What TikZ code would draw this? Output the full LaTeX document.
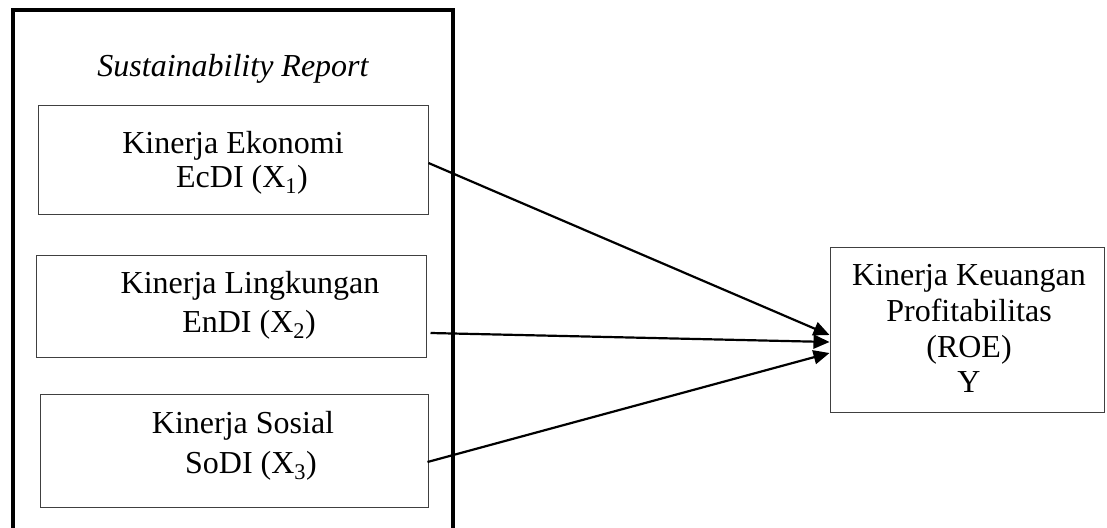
\documentclass[tikz,border=0pt]{standalone}
\usepackage{fontspec}
\setmainfont{Liberation Serif}
\usetikzlibrary{arrows.meta,calc}
\begin{document}
\begin{tikzpicture}[x=1pt,y=-1pt,
  inbox/.style={draw=black!75,line width=1pt,rectangle,inner sep=0pt},
  txt/.style={font=\fontsize{32}{36}\selectfont,inner sep=0pt,anchor=base},
  arr/.style={line width=2.2pt,-{Triangle[length=16pt,width=14pt]}}]
\useasboundingbox (0,0) rectangle (1107,527);
\clip (0,0) rectangle (1107,527);
\fill[white] (0,0) rectangle (1107,527);
% outer frame
\draw[line width=4.2pt] (13,10) rectangle (453,545);
\node[txt,font=\fontsize{32}{36}\selectfont\itshape] (sr) at (233,77) {Sustainability Report};
% boxes
\node[inbox,minimum width=390pt,minimum height=109pt] (b1) at (233,159.5) {};
\node[inbox,minimum width=390pt,minimum height=102pt] (b2) at (231,306) {};
\node[inbox,minimum width=388pt,minimum height=113pt] (b3) at (234,450.5) {};
\node[inbox,minimum width=274pt,minimum height=165pt] (y) at (967,329.5) {};
% texts
\node[txt] (t1a) at (233,153) {Kinerja Ekonomi};
\node[txt] (t1b) at (242,187) {EcDI (X\textsubscript{1})};
\node[txt] (t2a) at (250,293) {Kinerja Lingkungan};
\node[txt] (t2b) at (249,332) {EnDI (X\textsubscript{2})};
\node[txt] (t3a) at (243,433) {Kinerja Sosial};
\node[txt] (t3b) at (251,473) {SoDI (X\textsubscript{3})};
\node[txt] (ya) at (969,285) {Kinerja Keuangan};
\node[txt] (yb) at (969,321) {Profitabilitas};
\node[txt] (yc) at (969,357) {(ROE)};
\node[txt] (yd) at (969,392) {Y};
% arrows
\draw[arr] ([yshift=-3.5pt]b1.east) -- ([yshift=-5.5pt]y.west);
\draw[arr] ([xshift=4pt,yshift=-27pt]b2.east) -- ([yshift=-12.5pt]y.west);
\draw[arr] ([xshift=-1pt,yshift=-11.5pt]b3.east) -- ([yshift=-23.5pt]y.west);
\end{tikzpicture}
\end{document}
